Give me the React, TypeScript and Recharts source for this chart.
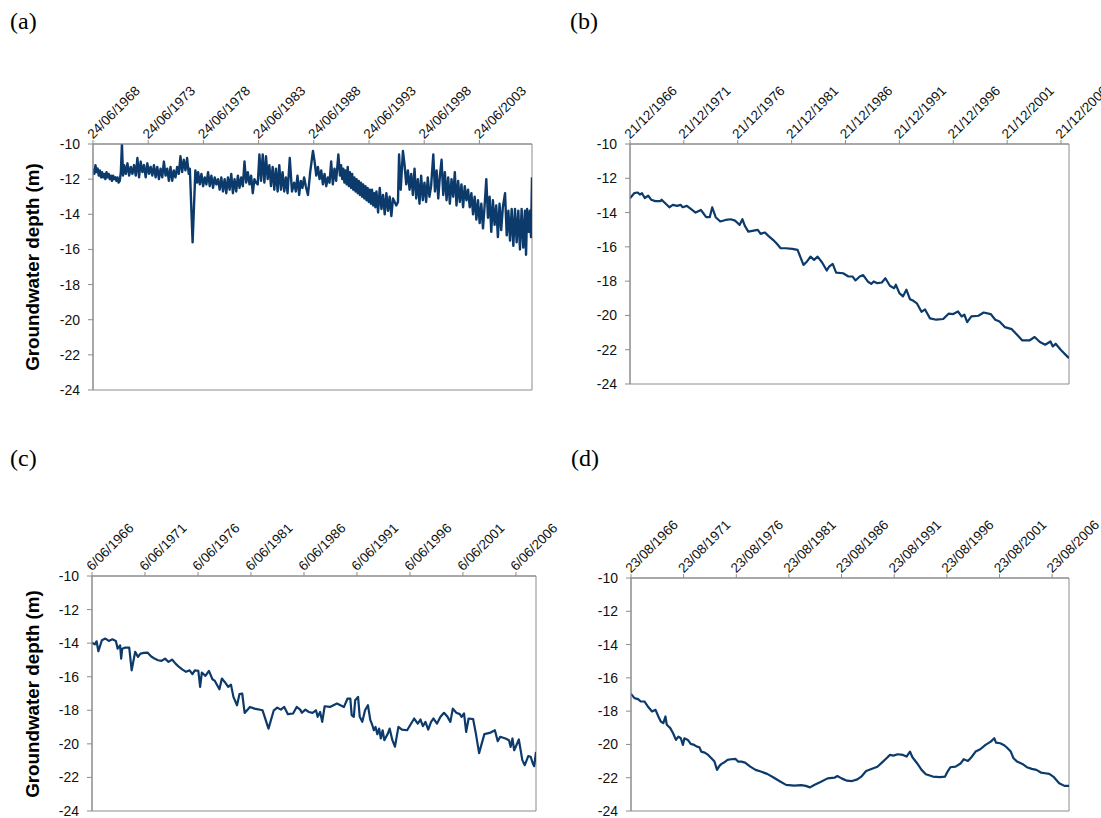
import React from 'react';
import { LineChart, Line, XAxis, YAxis, ReferenceArea } from 'recharts';

const SANS = '"Liberation Sans", Arial, Helvetica, sans-serif';
const SERIF = '"Liberation Serif", "Times New Roman", Times, serif';
const LINE_COLOR = '#0b3a6b';
const FRAME_COLOR = '#8c8c8c';

const depthTicks = [-24, -22, -20, -18, -16, -14, -12, -10];
const depthTitle = 'Groundwater depth (m)';

const datesA = ['24/06/1968', '24/06/1973', '24/06/1978', '24/06/1983', '24/06/1988', '24/06/1993', '24/06/1998', '24/06/2003'];
const datesB = ['21/12/1966', '21/12/1971', '21/12/1976', '21/12/1981', '21/12/1986', '21/12/1991', '21/12/1996', '21/12/2001', '21/12/2006'];
const datesC = ['6/06/1966', '6/06/1971', '6/06/1976', '6/06/1981', '6/06/1986', '6/06/1991', '6/06/1996', '6/06/2001', '6/06/2006'];
const datesD = ['23/08/1966', '23/08/1971', '23/08/1976', '23/08/1981', '23/08/1986', '23/08/1991', '23/08/1996', '23/08/2001', '23/08/2006'];

// [decimal year, depth in m]
const wellA: [number, number][] = [
  [1968.48, -11.4], [1968.6, -11.7], [1968.7, -11.2], [1968.8, -11.6], [1968.9, -11.4], [1969.0, -11.8],
  [1969.1, -11.5], [1969.2, -11.9], [1969.3, -11.6], [1969.4, -11.9], [1969.5, -11.7], [1969.6, -12.0],
  [1969.7, -11.6], [1969.8, -11.9], [1969.9, -11.7], [1970.0, -12.0], [1970.1, -11.8], [1970.2, -12.1],
  [1970.3, -11.8], [1970.4, -12.0], [1970.5, -11.9], [1970.6, -12.1], [1970.7, -11.9], [1970.8, -12.2],
  [1970.9, -12.1], [1971.0, -11.6], [1971.1, -10.0], [1971.2, -11.8], [1971.3, -11.2], [1971.45, -11.7],
  [1971.6, -11.1], [1971.75, -11.8], [1971.9, -11.3], [1972.05, -11.7], [1972.2, -11.2], [1972.35, -11.8],
  [1972.5, -10.8], [1972.65, -11.9], [1972.8, -11.0], [1972.95, -11.6], [1973.1, -11.2], [1973.25, -11.9],
  [1973.4, -11.1], [1973.55, -11.7], [1973.7, -11.3], [1973.85, -11.8], [1974.0, -11.2], [1974.15, -11.9],
  [1974.3, -11.3], [1974.45, -12.0], [1974.6, -11.4], [1974.75, -11.9], [1974.9, -11.0], [1975.05, -11.8],
  [1975.2, -11.4], [1975.35, -12.1], [1975.5, -11.3], [1975.65, -12.1], [1975.8, -11.5], [1975.95, -11.9],
  [1976.1, -11.3], [1976.25, -11.7], [1976.4, -10.7], [1976.55, -11.6], [1976.7, -10.9], [1976.85, -11.5],
  [1977.0, -10.8], [1977.15, -11.7], [1977.25, -11.4], [1977.5, -15.6], [1977.75, -11.5], [1977.9, -12.2],
  [1978.0, -11.6], [1978.15, -12.3], [1978.3, -11.7], [1978.45, -12.4], [1978.6, -11.9], [1978.75, -12.3],
  [1978.9, -11.6], [1979.05, -12.4], [1979.2, -11.8], [1979.35, -12.5], [1979.5, -11.9], [1979.65, -12.3],
  [1979.8, -12.0], [1979.95, -12.6], [1980.1, -11.9], [1980.25, -12.7], [1980.4, -12.0], [1980.55, -12.8],
  [1980.7, -11.9], [1980.85, -12.6], [1981.0, -11.7], [1981.15, -12.8], [1981.3, -12.0], [1981.45, -12.7],
  [1981.6, -11.8], [1981.75, -12.5], [1981.9, -11.9], [1982.05, -12.4], [1982.2, -11.0], [1982.35, -12.2],
  [1982.5, -11.6], [1982.65, -12.3], [1982.8, -11.8], [1982.95, -12.8], [1983.1, -12.0], [1983.25, -12.2],
  [1983.4, -12.3], [1983.55, -10.6], [1983.7, -12.1], [1983.85, -10.6], [1984.0, -12.2], [1984.15, -10.7],
  [1984.3, -12.0], [1984.45, -11.2], [1984.6, -12.4], [1984.75, -11.3], [1984.9, -12.6], [1985.05, -11.4],
  [1985.2, -12.7], [1985.35, -11.2], [1985.5, -12.6], [1985.65, -11.6], [1985.8, -12.7], [1985.95, -11.9],
  [1986.1, -12.8], [1986.3, -10.8], [1986.5, -12.7], [1986.7, -12.2], [1986.85, -12.7], [1987.0, -11.8],
  [1987.15, -12.9], [1987.3, -12.1], [1987.45, -12.5], [1987.6, -11.9], [1987.75, -12.4], [1987.95, -12.9],
  [1988.15, -11.6], [1988.4, -10.4], [1988.55, -11.0], [1988.7, -11.8], [1988.85, -11.3], [1989.0, -12.0],
  [1989.15, -11.5], [1989.3, -12.3], [1989.45, -11.7], [1989.6, -12.4], [1989.75, -11.9], [1989.9, -12.2],
  [1990.05, -11.0], [1990.2, -12.3], [1990.35, -11.4], [1990.5, -12.1], [1990.7, -10.6], [1990.85, -11.8],
  [1990.95, -11.2], [1991.05, -12.0], [1991.15, -11.4], [1991.25, -12.2], [1991.35, -11.5], [1991.45, -12.3],
  [1991.55, -11.3], [1991.65, -12.4], [1991.75, -11.6], [1991.85, -12.5], [1991.95, -11.7], [1992.05, -12.6],
  [1992.15, -11.9], [1992.25, -12.7], [1992.35, -12.0], [1992.45, -12.8], [1992.55, -12.1], [1992.65, -12.9],
  [1992.75, -12.2], [1992.85, -13.0], [1992.95, -12.3], [1993.05, -13.1], [1993.15, -12.4], [1993.25, -13.2],
  [1993.35, -12.5], [1993.45, -13.3], [1993.55, -12.6], [1993.65, -13.4], [1993.75, -12.6], [1993.85, -13.5],
  [1993.95, -12.8], [1994.05, -13.6], [1994.15, -12.7], [1994.3, -13.9], [1994.45, -12.5], [1994.6, -13.7],
  [1994.75, -12.9], [1994.9, -14.0], [1995.05, -12.8], [1995.2, -13.8], [1995.35, -13.0], [1995.5, -14.1],
  [1995.65, -13.1], [1995.8, -13.3], [1995.95, -13.5], [1996.1, -13.3], [1996.2, -10.6], [1996.35, -12.6],
  [1996.55, -10.4], [1996.7, -11.2], [1996.85, -12.3], [1997.0, -11.5], [1997.15, -12.6], [1997.3, -11.7],
  [1997.45, -12.9], [1997.6, -11.4], [1997.75, -13.1], [1997.9, -12.0], [1998.05, -13.4], [1998.2, -11.8],
  [1998.35, -13.2], [1998.5, -12.2], [1998.65, -13.3], [1998.8, -11.9], [1998.95, -13.0], [1999.1, -12.4],
  [1999.3, -10.6], [1999.45, -12.7], [1999.6, -11.5], [1999.75, -13.1], [1999.9, -11.8], [2000.05, -10.9],
  [2000.2, -12.9], [2000.35, -11.6], [2000.5, -13.2], [2000.65, -11.9], [2000.8, -13.4], [2000.95, -12.0],
  [2001.1, -13.0], [2001.25, -11.6], [2001.4, -13.5], [2001.55, -12.1], [2001.7, -13.3], [2001.85, -12.3],
  [2002.0, -13.6], [2002.15, -12.4], [2002.3, -13.2], [2002.45, -12.6], [2002.6, -13.6], [2002.75, -12.8],
  [2002.9, -14.0], [2003.05, -13.0], [2003.2, -14.3], [2003.35, -13.2], [2003.5, -14.5], [2003.65, -13.4],
  [2003.8, -14.8], [2003.95, -13.5], [2004.1, -12.0], [2004.25, -14.2], [2004.4, -13.0], [2004.55, -15.0],
  [2004.7, -13.2], [2004.85, -14.6], [2005.0, -13.5], [2005.15, -15.3], [2005.3, -13.4], [2005.45, -14.9],
  [2005.6, -13.6], [2005.8, -12.8], [2005.95, -15.2], [2006.1, -13.8], [2006.25, -15.5], [2006.4, -13.7],
  [2006.55, -15.8], [2006.7, -13.7], [2006.85, -15.6], [2007.0, -13.8], [2007.15, -16.0], [2007.3, -13.7],
  [2007.45, -15.9], [2007.6, -13.8], [2007.7, -16.3], [2007.8, -13.7], [2007.95, -15.0], [2008.05, -13.8],
  [2008.15, -15.3], [2008.24, -11.9],
];

const wellB: [number, number][] = [
  [1966.97, -13.17], [1967.36, -12.87], [1967.69, -12.83], [1967.88, -12.95], [1968.08, -12.87], [1968.34, -13.15],
  [1968.66, -13.01], [1968.93, -13.25], [1969.32, -13.33], [1969.81, -13.33], [1969.9, -13.25], [1970.29, -13.49],
  [1970.62, -13.69], [1970.95, -13.55], [1971.34, -13.61], [1971.66, -13.55], [1971.86, -13.69], [1972.25, -13.61],
  [1972.58, -13.77], [1973.06, -14.0], [1973.55, -13.85], [1974.04, -14.27], [1974.37, -14.27], [1974.6, -13.69],
  [1974.92, -14.27], [1975.35, -14.52], [1975.84, -14.43], [1976.32, -14.39], [1976.72, -14.47], [1976.98, -14.62],
  [1977.14, -14.72], [1977.4, -14.39], [1977.63, -14.78], [1977.95, -15.11], [1978.44, -15.05], [1978.83, -15.01],
  [1979.09, -15.24], [1979.49, -15.16], [1979.81, -15.36], [1980.24, -15.59], [1980.56, -15.79], [1980.95, -16.08],
  [1981.44, -16.08], [1982.03, -16.12], [1982.52, -16.18], [1983.07, -17.05], [1983.4, -16.85], [1983.72, -16.57],
  [1984.05, -16.76], [1984.38, -16.57], [1984.8, -16.91], [1985.23, -17.38], [1985.45, -17.15], [1985.78, -16.99],
  [1986.1, -17.5], [1986.75, -17.54], [1987.24, -17.73], [1987.63, -17.73], [1987.89, -17.96], [1988.29, -17.73],
  [1988.61, -17.65], [1989.03, -18.02], [1989.36, -18.16], [1989.59, -18.02], [1989.92, -18.12], [1990.34, -18.08],
  [1990.67, -17.83], [1991.09, -18.27], [1991.48, -18.41], [1991.64, -18.21], [1991.97, -18.7], [1992.3, -18.89],
  [1992.62, -18.5], [1992.95, -19.05], [1993.27, -19.15], [1993.6, -19.3], [1994.02, -19.79], [1994.35, -19.65],
  [1994.81, -20.17], [1995.39, -20.25], [1996.04, -20.21], [1996.53, -19.9], [1996.96, -19.92], [1997.41, -19.77],
  [1997.74, -20.06], [1998.0, -19.96], [1998.26, -20.39], [1998.65, -20.06], [1999.3, -20.02], [1999.79, -19.83],
  [2000.44, -19.92], [2000.87, -20.25], [2001.26, -20.35], [2001.75, -20.68], [2002.4, -20.8], [2002.89, -21.13],
  [2003.38, -21.46], [2004.03, -21.46], [2004.52, -21.26], [2005.01, -21.55], [2005.5, -21.71], [2005.99, -21.52],
  [2006.21, -21.81], [2006.47, -21.65], [2006.96, -22.02], [2007.45, -22.33], [2007.71, -22.49],
];

const wellC: [number, number][] = [
  [1966.43, -13.97], [1966.69, -14.07], [1966.86, -13.89], [1967.03, -14.48], [1967.36, -13.83], [1967.69, -13.73],
  [1968.02, -13.87], [1968.35, -13.77], [1968.68, -13.87], [1968.85, -14.33], [1969.08, -14.13], [1969.18, -14.92],
  [1969.28, -14.33], [1969.51, -14.27], [1969.94, -14.27], [1970.17, -15.62], [1970.5, -14.52], [1970.77, -14.82],
  [1971.0, -14.62], [1971.33, -14.58], [1971.66, -14.56], [1971.99, -14.78], [1972.32, -14.92], [1972.66, -15.02],
  [1972.99, -15.06], [1973.32, -14.92], [1973.65, -15.12], [1973.98, -14.98], [1974.31, -15.22], [1974.64, -15.42],
  [1974.97, -15.58], [1975.3, -15.71], [1975.64, -15.62], [1975.9, -15.85], [1976.13, -15.62], [1976.46, -15.65],
  [1976.63, -16.61], [1976.79, -15.75], [1977.13, -15.95], [1977.46, -15.65], [1977.79, -16.15], [1978.02, -16.25],
  [1978.28, -16.55], [1978.45, -16.75], [1978.68, -16.11], [1978.95, -16.31], [1979.28, -16.61], [1979.54, -16.47],
  [1979.77, -17.2], [1980.11, -17.7], [1980.34, -17.04], [1980.6, -17.0], [1980.83, -18.16], [1981.33, -17.8],
  [1981.76, -17.9], [1982.52, -18.0], [1983.08, -19.09], [1983.58, -18.0], [1983.91, -17.84], [1984.24, -17.96],
  [1984.57, -17.8], [1984.91, -18.23], [1985.4, -18.19], [1985.74, -17.8], [1986.07, -17.96], [1986.23, -18.15],
  [1986.56, -17.96], [1986.89, -18.1], [1987.23, -18.15], [1987.56, -18.0], [1987.72, -18.39], [1987.95, -18.1],
  [1988.15, -18.69], [1988.38, -17.76], [1988.88, -17.8], [1989.21, -17.7], [1989.54, -17.6], [1989.87, -17.7],
  [1990.2, -17.8], [1990.54, -17.3], [1990.8, -17.3], [1990.93, -18.29], [1991.13, -18.39], [1991.26, -17.4],
  [1991.53, -17.2], [1991.69, -18.39], [1991.93, -18.69], [1992.19, -18.0], [1992.46, -17.7], [1992.69, -18.59],
  [1992.85, -18.83], [1993.02, -19.19], [1993.18, -18.99], [1993.35, -19.42], [1993.52, -19.09], [1993.68, -19.68],
  [1993.85, -19.19], [1994.01, -19.78], [1994.34, -19.39], [1994.51, -19.09], [1994.77, -19.78], [1995.01, -20.17],
  [1995.34, -18.99], [1995.67, -19.15], [1996.16, -19.19], [1996.5, -18.83], [1996.83, -18.49], [1997.16, -18.79],
  [1997.42, -18.55], [1997.65, -18.95], [1997.89, -18.69], [1998.15, -19.15], [1998.42, -18.69], [1998.65, -18.49],
  [1998.98, -18.79], [1999.31, -18.39], [1999.64, -18.15], [1999.97, -18.39], [2000.24, -18.69], [2000.47, -17.9],
  [2000.8, -18.15], [2001.13, -18.23], [2001.3, -18.39], [2001.53, -18.19], [2001.73, -19.29], [2001.96, -18.49],
  [2002.39, -18.53], [2002.62, -19.29], [2002.95, -20.55], [2003.45, -19.42], [2003.95, -19.35], [2004.44, -19.19],
  [2004.71, -19.84], [2004.94, -19.58], [2005.44, -19.68], [2005.77, -19.78], [2005.93, -20.18], [2006.1, -19.68],
  [2006.26, -20.38], [2006.43, -20.14], [2006.7, -19.74], [2007.03, -20.97], [2007.26, -21.27], [2007.59, -20.73],
  [2007.82, -20.77], [2008.02, -21.17], [2008.15, -21.33], [2008.32, -20.48],
];

const wellD: [number, number][] = [
  [1966.64, -16.96], [1966.97, -17.22], [1967.31, -17.28], [1967.57, -17.42], [1967.91, -17.42], [1968.24, -17.72],
  [1968.64, -18.02], [1968.97, -17.92], [1969.24, -18.32], [1969.47, -18.62], [1969.71, -18.72], [1969.91, -18.32],
  [1970.04, -18.82], [1970.37, -19.02], [1970.64, -19.33], [1970.91, -19.73], [1971.14, -19.53], [1971.37, -19.63],
  [1971.57, -20.03], [1971.71, -19.63], [1972.04, -19.73], [1972.31, -19.97], [1972.64, -20.03], [1972.91, -20.13],
  [1973.14, -20.17], [1973.31, -20.43], [1973.64, -20.49], [1973.97, -20.63], [1974.37, -20.89], [1974.57, -21.03],
  [1974.81, -21.53], [1975.04, -21.29], [1975.24, -21.17], [1975.47, -21.09], [1975.81, -20.93], [1976.14, -20.89],
  [1976.57, -20.87], [1976.81, -21.03], [1977.14, -21.03], [1977.47, -21.09], [1977.97, -21.33], [1978.47, -21.53],
  [1978.97, -21.63], [1979.57, -21.77], [1980.14, -21.97], [1980.81, -22.23], [1981.37, -22.43], [1982.14, -22.47],
  [1982.81, -22.45], [1983.24, -22.49], [1983.64, -22.58], [1984.04, -22.44], [1984.64, -22.26], [1985.31, -22.04],
  [1985.97, -22.0], [1986.24, -21.9], [1986.64, -22.04], [1987.14, -22.18], [1987.64, -22.2], [1988.14, -22.1],
  [1988.57, -21.9], [1988.97, -21.6], [1989.47, -21.48], [1990.04, -21.34], [1990.47, -21.09], [1990.91, -20.83],
  [1991.24, -20.63], [1991.57, -20.67], [1991.97, -20.59], [1992.47, -20.63], [1992.81, -20.73], [1993.14, -20.43],
  [1993.37, -20.77], [1993.81, -21.13], [1994.24, -21.53], [1994.64, -21.79], [1995.31, -21.93], [1995.97, -21.97],
  [1996.47, -21.93], [1996.71, -21.63], [1996.97, -21.37], [1997.47, -21.33], [1997.97, -21.13], [1998.24, -20.89],
  [1998.64, -20.99], [1998.97, -20.77], [1999.37, -20.43], [1999.81, -20.29], [2000.31, -20.03], [2000.81, -19.83],
  [2001.14, -19.63], [2001.31, -19.89], [2001.71, -19.93], [2002.04, -20.03], [2002.31, -20.17], [2002.71, -20.43],
  [2002.97, -20.83], [2003.31, -21.03], [2003.81, -21.17], [2004.24, -21.37], [2004.71, -21.47], [2005.14, -21.53],
  [2005.57, -21.69], [2005.97, -21.73], [2006.37, -21.77], [2006.81, -21.97], [2007.31, -22.33], [2007.81, -22.49],
  [2008.24, -22.49],
];

// dd/mm/yyyy -> decimal year
function decimalYear(label: string): number {
  const [d, m, y] = label.split('/').map(Number);
  const leap = (y % 4 === 0 && y % 100 !== 0) || y % 400 === 0;
  const monthDays = [31, leap ? 29 : 28, 31, 30, 31, 30, 31, 31, 30, 31, 30, 31];
  let dayOfYear = d - 1;
  for (let i = 0; i < m - 1; i++) dayOfYear += monthDays[i];
  return y + dayOfYear / (leap ? 366 : 365);
}

type Margin = { top: number; right: number; bottom: number; left: number };

type PanelProps = {
  left: number;
  top: number;
  width: number;
  height: number;
  margin: Margin;
  dates: string[];
  series: [number, number][];
  strokeWidth: number;
};

function Panel({ left, top, width, height, margin, dates, series, strokeWidth }: PanelProps) {
  const ticks = dates.map(decimalYear);
  const rows = series.map(([year, depth]) => ({ year, depth }));
  const x0 = Math.min(ticks[0], rows[0].year);
  const x1 = rows[rows.length - 1].year;

  // rotated date label, starting at the tick and rising to the right
  const renderDateTick = (props: any) => {
    const { x, y, payload } = props;
    let idx = ticks.findIndex((t) => Math.abs(t - payload.value) < 1e-6);
    if (idx < 0) idx = props.index;
    const ax = x;
    return (
      <text
        x={ax}
        y={y}
        transform={`rotate(-45 ${ax} ${y})`}
        textAnchor="start"
        fontSize={13.5}
        fontFamily={SANS}
        fill="#111"
      >
        {dates[idx]}
      </text>
    );
  };

  return (
    <div style={{ position: 'absolute', left, top, width, height }}>
      <LineChart width={width} height={height} data={rows} margin={margin}>
        <XAxis
          dataKey="year"
          type="number"
          orientation="top"
          domain={[x0, x1]}
          ticks={ticks}
          interval={0}
          height={40}
          tickSize={4}
          tickMargin={0.5}
          axisLine={{ stroke: FRAME_COLOR }}
          tickLine={{ stroke: FRAME_COLOR }}
          tick={renderDateTick}
          allowDataOverflow
        />
        <YAxis
          type="number"
          domain={[-24, -10]}
          ticks={depthTicks}
          interval={0}
          width={60}
          tickSize={5}
          tickMargin={8}
          axisLine={{ stroke: FRAME_COLOR }}
          tickLine={{ stroke: FRAME_COLOR }}
          tick={{ fontSize: 14, fill: '#111', fontFamily: SANS }}
          allowDataOverflow
        />
        <ReferenceArea x1={x0} x2={x1} y1={-24} y2={-10} fill="none" stroke={FRAME_COLOR} strokeWidth={1} />
        <Line
          type="linear"
          dataKey="depth"
          stroke={LINE_COLOR}
          strokeWidth={strokeWidth}
          strokeLinejoin="round"
          dot={false}
          activeDot={false}
          isAnimationActive={false}
        />
      </LineChart>
    </div>
  );
}

export default function App() {
  return (
    <div
      style={{
        position: 'absolute',
        left: 0,
        top: 0,
        width: 1101,
        height: 818,
        overflow: 'hidden',
        background: '#fff',
      }}
    >
      <Panel left={0} top={0} width={560} height={400} margin={{ top: 104, right: 28, bottom: 10, left: 33 }} dates={datesA} series={wellA} strokeWidth={2.4} />
      <Panel left={550} top={0} width={551} height={400} margin={{ top: 104, right: 32, bottom: 16, left: 20 }} dates={datesB} series={wellB} strokeWidth={2.2} />
      <Panel left={0} top={430} width={560} height={388} margin={{ top: 106, right: 24, bottom: 7, left: 32 }} dates={datesC} series={wellC} strokeWidth={2.2} />
      <Panel left={550} top={430} width={551} height={388} margin={{ top: 108, right: 32, bottom: 7, left: 21 }} dates={datesD} series={wellD} strokeWidth={2.2} />
      <svg width={1101} height={818} style={{ position: 'absolute', left: 0, top: 0, pointerEvents: 'none' }}>
        <g fontFamily={SERIF} fontSize={24} fill="#000">
          <text x={10} y={29}>(a)</text>
          <text x={570} y={29}>(b)</text>
          <text x={10} y={466}>(c)</text>
          <text x={571} y={466}>(d)</text>
        </g>
        <g fontFamily={SANS} fontSize={18.8} fontWeight="bold" fill="#000" textAnchor="middle">
          <text x={39} y={267} transform="rotate(-90 39 267)">{depthTitle}</text>
          <text x={39} y={694} transform="rotate(-90 39 694)">{depthTitle}</text>
        </g>
      </svg>
    </div>
  );
}
